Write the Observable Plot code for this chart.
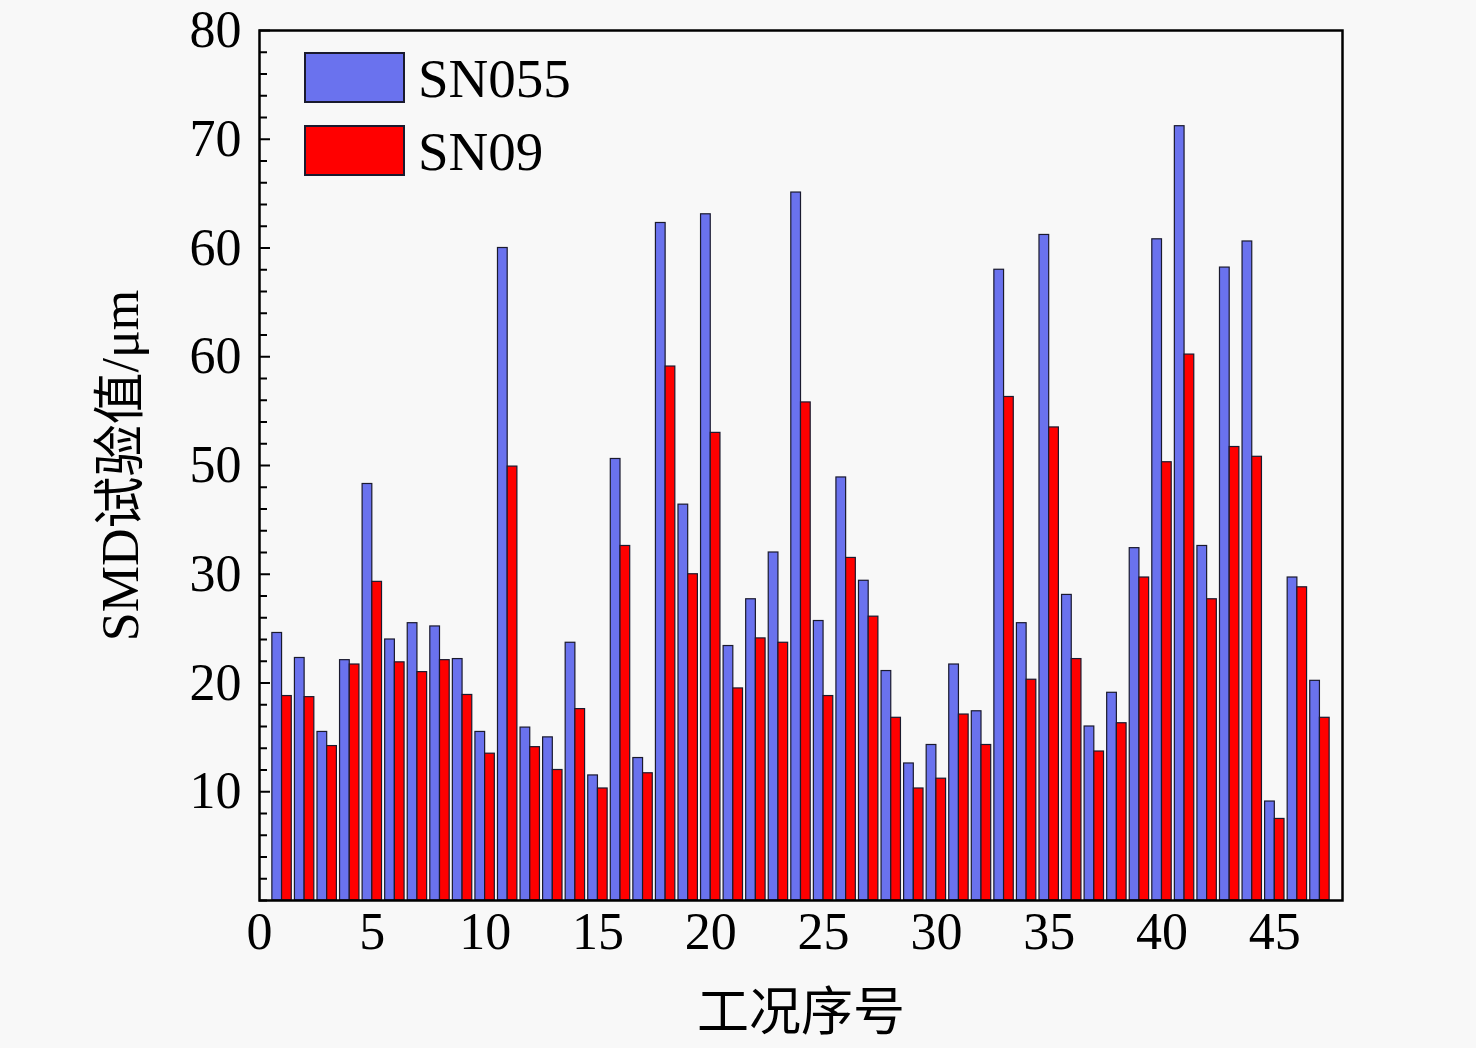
<!DOCTYPE html>
<html>
<head>
<meta charset="utf-8">
<script src="https://cdn.jsdelivr.net/npm/d3@7"></script>
<script src="https://cdn.jsdelivr.net/npm/@observablehq/plot@0.6"></script>
<style>
  html, body { margin: 0; padding: 0; background: #f8f8f8; }
  #wrap { position: relative; width: 1476px; height: 1048px; }
  .leg { position: absolute; font-family: "Liberation Serif", "Times New Roman", serif; font-size: 55px; color: #000; }
  .sw { position: absolute; box-sizing: border-box; border: 2px solid #1a1a2e; }
</style>
</head>
<body>
<div id="wrap"></div>
<script>
const cases = [1,2,3,4,5,6,7,8,9,10,11,12,13,14,15,16,17,18,19,20,21,22,23,24,25,26,27,28,29,30,31,32,33,34,35,36,37,38,39,40,41,42,43,44,45,46,47];
const sn055 = [24.6,22.3,15.5,22.1,38.3,24.0,25.5,25.2,22.2,15.5,60.0,15.9,15.0,23.7,11.5,40.6,13.1,62.3,36.4,63.1,23.4,27.7,32.0,65.1,25.7,38.9,29.4,21.1,12.6,14.3,21.7,17.4,58.0,25.5,61.2,28.1,16.0,19.1,32.4,60.8,71.2,32.6,58.2,60.6,9.1,29.7,20.2];
const sn09 = [18.8,18.7,14.2,21.7,29.3,21.9,21.0,22.1,18.9,13.5,39.9,14.1,12.0,17.6,10.3,32.6,11.7,49.1,30.0,43.0,19.5,24.1,23.7,45.8,18.8,31.5,26.1,16.8,10.3,11.2,17.1,14.3,46.3,20.3,43.5,22.2,13.7,16.3,29.7,40.3,50.2,27.7,41.7,40.8,7.5,28.8,16.8];
const seriesNames = ["SN055", "SN09"];
const seriesColors = ["#6a72ee", "#ff0000"];
const xTicks = [0,5,10,15,20,25,30,35,40,45];
const yMajor = [10,20,30,40,50,60,70,80];
const yTickLabels = ["10","20","30","50","60","60","70","80"];
const yMinor = [0,2,4,6,8,12,14,16,18,22,24,26,28,32,34,36,38,42,44,46,48,52,54,56,58,62,64,66,68,72,74,76,78];
const barW = 0.43;

const rows = [];
cases.forEach((c, i) => {
  rows.push({series: seriesNames[0], x1: c - barW, x2: c, value: sn055[i]});
  rows.push({series: seriesNames[1], x1: c, x2: c + barW, value: sn09[i]});
});

const chart = Plot.plot({
  width: 1476,
  height: 1048,
  marginLeft: 259,
  marginRight: 134,
  marginTop: 30,
  marginBottom: 148,
  style: {background: "transparent", fontFamily: "'Liberation Serif', 'Noto Sans CJK SC', serif", fontSize: "52px", color: "#000"},
  x: {domain: [0, 48]},
  y: {domain: [0, 80]},
  color: {domain: seriesNames, range: seriesColors},
  marks: [
    Plot.rectY(rows, {x1: "x1", x2: "x2", y: "value", fill: "series", stroke: "#1a1a2e", strokeWidth: 1.2}),
    Plot.axisY({ticks: yMinor, tickSize: -8, text: null, strokeWidth: 2, label: null}),
    Plot.axisY({ticks: yMajor, tickSize: -11, text: null, strokeWidth: 2, label: null}),
    Plot.axisY({ticks: yMajor, tickSize: 0, tickPadding: 18, tickFormat: (d) => yTickLabels[yMajor.indexOf(d)],
      label: "SMD试验值/μm", labelAnchor: "center", labelOffset: 158, labelArrow: "none"}),
    Plot.axisX({ticks: xTicks, tickSize: 0, tickPadding: 12, tickFormat: (d) => String(d),
      label: "工况序号", labelAnchor: "center", labelOffset: 129, labelArrow: "none"}),
    Plot.frame({stroke: "#000", strokeWidth: 2.5})
  ]
});

const wrap = document.getElementById("wrap");
wrap.appendChild(chart);

// legend overlay
const legTop = [52, 125];
seriesNames.forEach((name, i) => {
  const sw = document.createElement("div");
  sw.className = "sw";
  sw.style.left = "304px";
  sw.style.top = legTop[i] + "px";
  sw.style.width = "101px";
  sw.style.height = "51px";
  sw.style.background = seriesColors[i];
  wrap.appendChild(sw);
  const t = document.createElement("div");
  t.className = "leg";
  t.textContent = name;
  t.style.left = "418px";
  t.style.top = (legTop[i] - 2) + "px";
  t.style.lineHeight = "57px";
  wrap.appendChild(t);
});
</script>
</body>
</html>
